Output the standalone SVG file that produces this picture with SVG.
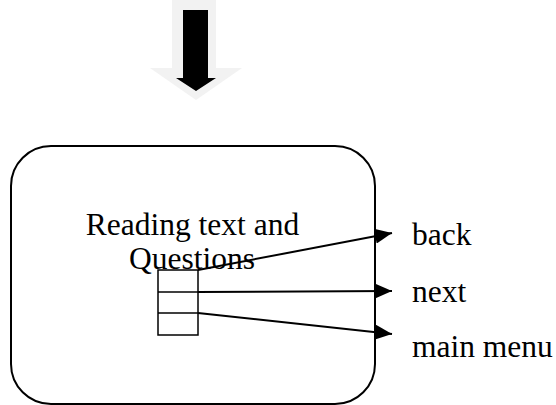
<svg xmlns="http://www.w3.org/2000/svg" width="556" height="405" viewBox="0 0 556 405">
<style>
.t{font-family:"Liberation Serif","Times New Roman",serif;font-size:31.5px;fill:#000}
.s{fill:none;stroke:#000;stroke-width:2}
</style>
<defs>
<marker id="ah" markerWidth="8.5" markerHeight="7.5" refX="8.5" refY="3.75" orient="auto" markerUnits="strokeWidth"><path d="M0,0 L8.5,3.75 L0,7.5 z" fill="#000"/></marker>
</defs>
<g id="flow-arrow">
<path d="M172,0 H216 V68 H242 L196,100 L150,68 H172 Z" fill="#f2f2f2"/>
<path d="M183,10 H208 V78 H216 L196,91 L176,78 H183 Z" fill="#000"/>
</g>
<g id="screen">
<rect x="11" y="146" width="364" height="258" rx="40" ry="40" class="s"/>
<text class="t" x="192.5" y="235" text-anchor="middle">Reading text and</text>
<text class="t" x="192" y="269" text-anchor="middle">Questions</text>
</g>
<g id="buttons">
<rect x="158" y="270" width="40" height="65" fill="none" stroke="#000" stroke-width="1.5"/>
<line x1="158" y1="292" x2="198" y2="292" stroke="#000" stroke-width="1.5"/>
<line x1="158" y1="313" x2="198" y2="313" stroke="#000" stroke-width="1.5"/>
</g>
<g id="connectors">
<line x1="198" y1="270" x2="392" y2="233" class="s" marker-end="url(#ah)"/>
<line x1="198" y1="292" x2="392" y2="291" class="s" marker-end="url(#ah)"/>
<line x1="198" y1="313" x2="392" y2="334" class="s" marker-end="url(#ah)"/>
</g>
<g id="labels">
<text class="t" x="412" y="245">back</text>
<text class="t" x="412" y="302">next</text>
<text class="t" x="412" y="357">main menu</text>
</g>
</svg>
